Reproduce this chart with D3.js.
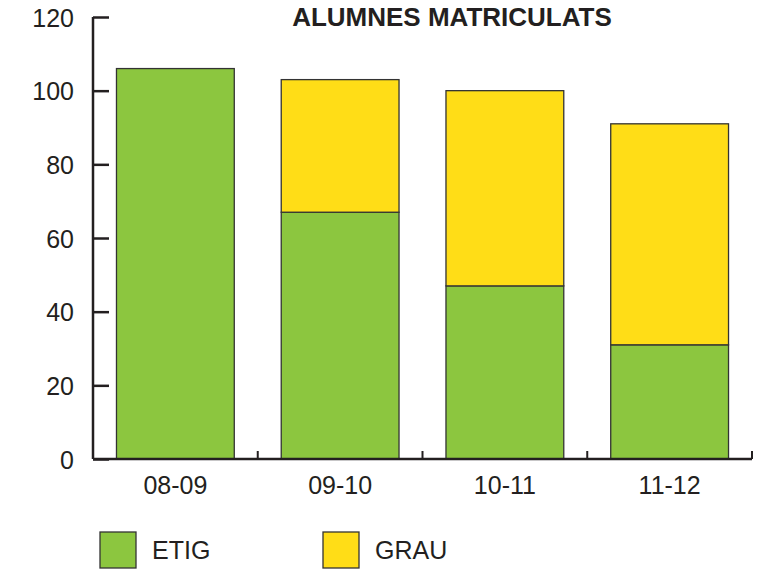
<!DOCTYPE html>
<html>
<head>
<meta charset="utf-8">
<script src="https://cdn.jsdelivr.net/npm/d3@7"></script>
<style>
  body { margin: 0; background: #fff; }
  text { font-family: "Liberation Sans", Arial, sans-serif; fill: #231f20; }
</style>
</head>
<body>
<div class="chart"></div>
<script>
var categories = ["08-09", "09-10", "10-11", "11-12"];
var etig = [106, 67, 47, 31];
var grau = [0, 36, 53, 60];
var seriesNames = ["ETIG", "GRAU"];
var yTicks = [0, 20, 40, 60, 80, 100, 120];

var colors = { ETIG: "#8cc63f", GRAU: "#ffdd17" };

var width = 771, height = 569;
var margin = { left: 93, right: 19, top: 17, bottom: 110 };

var svg = d3.select(".chart").append("svg")
    .attr("width", width)
    .attr("height", height);

var x = d3.scaleBand()
    .domain(categories)
    .range([margin.left, width - margin.right])
    .paddingInner(0.285)
    .paddingOuter(0.1425);

var y = d3.scaleLinear()
    .domain([0, 120])
    .range([height - margin.bottom, margin.top]);

var rows = categories.map(function(c, i) {
  return { cat: c, ETIG: etig[i], GRAU: grau[i] };
});
var stacked = d3.stack().keys(seriesNames)(rows);

// bars
svg.append("g")
  .selectAll("g")
  .data(stacked)
  .enter().append("g")
    .attr("fill", function(d) { return colors[d.key]; })
  .selectAll("rect")
  .data(function(d) { return d.filter(function(p) { return p[1] > p[0]; }); })
  .enter().append("rect")
    .attr("x", function(d) { return x(d.data.cat); })
    .attr("y", function(d) { return y(d[1]); })
    .attr("width", x.bandwidth())
    .attr("height", function(d) { return y(d[0]) - y(d[1]); })
    .attr("stroke", "#333")
    .attr("stroke-width", 1.3);

// y axis
var yAxis = svg.append("g")
    .attr("transform", "translate(" + margin.left + ",0)")
    .call(d3.axisRight(y).tickValues(yTicks).tickSize(16).tickFormat(d3.format("d")));
yAxis.select(".domain").attr("stroke", "#231f20").attr("stroke-width", 2.5)
    .attr("d", "M0," + y(0) + "V" + y(120));
yAxis.selectAll(".tick line").attr("stroke", "#231f20").attr("stroke-width", 2.5);
yAxis.selectAll(".tick text")
    .attr("x", -19)
    .attr("dy", "0.36em")
    .attr("text-anchor", "end")
    .style("font-size", "25px");

// x axis
var xg = svg.append("g");
xg.append("line")
    .attr("x1", margin.left).attr("x2", width - margin.right)
    .attr("y1", y(0)).attr("y2", y(0))
    .attr("stroke", "#231f20").attr("stroke-width", 2.5);
xg.selectAll(".sep")
  .data(categories)
  .enter().append("line")
    .attr("x1", function(d) { return x(d) + x.bandwidth() + x.step() * x.paddingInner() / 2; })
    .attr("x2", function(d) { return x(d) + x.bandwidth() + x.step() * x.paddingInner() / 2; })
    .attr("y1", y(0)).attr("y2", y(0) - 8)
    .attr("stroke", "#231f20").attr("stroke-width", 2);
xg.selectAll(".lab")
  .data(categories)
  .enter().append("text")
    .attr("x", function(d) { return x(d) + x.bandwidth() / 2; })
    .attr("y", y(0) + 35)
    .attr("text-anchor", "middle")
    .style("font-size", "25px")
    .text(function(d) { return d; });

// title
svg.append("text")
    .attr("x", 452)
    .attr("y", 26)
    .attr("text-anchor", "middle")
    .style("font-size", "26px")
    .style("font-weight", "bold")
    .text("ALUMNES MATRICULATS");

// legend
var legend = svg.append("g")
  .selectAll("g")
  .data(seriesNames)
  .enter().append("g")
    .attr("transform", function(d, i) { return "translate(" + (100 + i * 223) + ",532)"; });
legend.append("rect")
    .attr("width", 36).attr("height", 36)
    .attr("fill", function(d) { return colors[d]; })
    .attr("stroke", "#333").attr("stroke-width", 1.3);
legend.append("text")
    .attr("x", 52).attr("y", 27)
    .style("font-size", "25px")
    .text(function(d) { return d; });
</script>
</body>
</html>
